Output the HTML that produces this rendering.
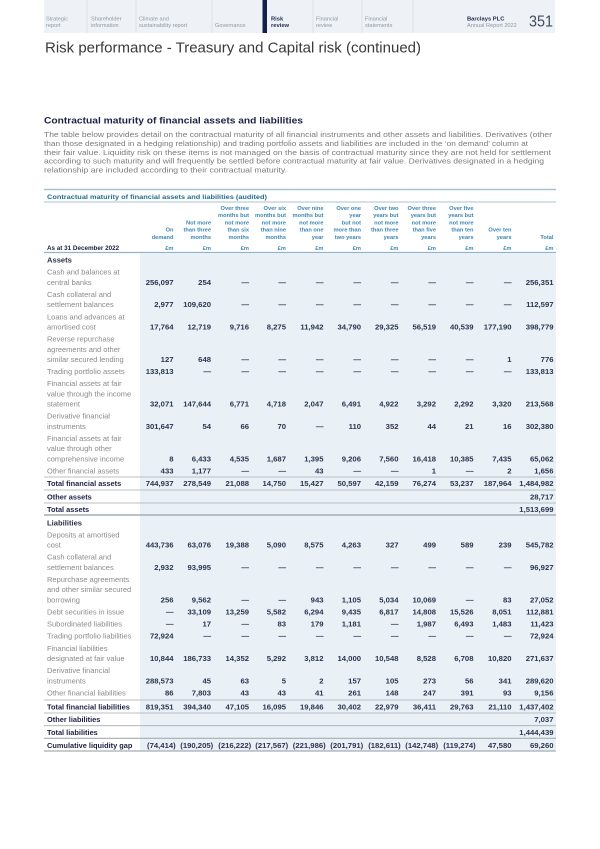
<!DOCTYPE html>
<html><head><meta charset="utf-8"><style>
html,body{margin:0;padding:0;background:#fff;}
svg{display:block;}
</style></head><body>
<svg width="600" height="849" viewBox="0 0 600 849" xmlns="http://www.w3.org/2000/svg" font-family="'Liberation Sans', sans-serif">
<rect x="0" y="0" width="600" height="849" fill="#fff"/>
<!-- NAV BAND -->
<rect x="44" y="0" width="511" height="33" fill="#eef2f6"/>
<g stroke="#d3dbe2" stroke-width="0.7">
<line x1="87" y1="0" x2="87" y2="33"/><line x1="136" y1="0" x2="136" y2="33"/><line x1="212" y1="0" x2="212" y2="33"/><line x1="313" y1="0" x2="313" y2="33"/><line x1="362" y1="0" x2="362" y2="33"/><line x1="413" y1="0" x2="413" y2="33"/>
</g>
<rect x="262.5" y="0" width="4.5" height="33" fill="#13204a"/>
<g font-size="5.6" fill="#8b97a3">
<text x="46" y="20.3">Strategic</text><text x="46" y="27">report</text>
<text x="91" y="20.3">Shareholder</text><text x="91" y="27">information</text>
<text x="139" y="20.3">Climate and</text><text x="139" y="27">sustainability report</text>
<text x="215" y="27">Governance</text>
<text x="316" y="20.3">Financial</text><text x="316" y="27">review</text>
<text x="365" y="20.3">Financial</text><text x="365" y="27">statements</text>
<text x="467" y="27">Annual Report 2022</text>
</g>
<g font-size="5.8" font-weight="bold" fill="#1d2b4f">
<text x="271" y="20.3">Risk</text><text x="271" y="27">review</text>
<text x="467" y="20.3">Barclays PLC</text>
</g>
<text x="529" y="26.7" font-size="15.5" fill="#3e4a5e" textLength="24" lengthAdjust="spacingAndGlyphs">351</text>

<!-- TITLE -->
<text x="45" y="52.3" font-size="15" fill="#3a3a3a" textLength="376" lengthAdjust="spacingAndGlyphs">Risk performance - Treasury and Capital risk (continued)</text>

<!-- HEADING & PARAGRAPH -->
<text x="44" y="123.3" font-size="9.3" font-weight="bold" fill="#1c2143" textLength="259" lengthAdjust="spacingAndGlyphs">Contractual maturity of financial assets and liabilities</text>
<g font-size="7.5" fill="#7b7b7b">
<text x="44" y="136.9" textLength="508" lengthAdjust="spacingAndGlyphs">The table below provides detail on the contractual maturity of all financial instruments and other assets and liabilities. Derivatives (other</text>
<text x="44" y="145.9" textLength="484" lengthAdjust="spacingAndGlyphs">than those designated in a hedging relationship) and trading portfolio assets and liabilities are included in the ‘on demand’ column at</text>
<text x="44" y="154.9" textLength="507" lengthAdjust="spacingAndGlyphs">their fair value. Liquidity risk on these items is not managed on the basis of contractual maturity since they are not held for settlement</text>
<text x="44" y="163.6" textLength="500" lengthAdjust="spacingAndGlyphs">according to such maturity and will frequently be settled before contractual maturity at fair value. Derivatives designated in a hedging</text>
<text x="44" y="172.6" textLength="243" lengthAdjust="spacingAndGlyphs">relationship are included according to their contractual maturity.</text>
</g>

<!-- TABLE TITLE BAR -->
<line x1="44" y1="189.5" x2="556" y2="189.5" stroke="#a8c3d2" stroke-width="1.6"/>
<text x="47" y="199" font-size="6.5" font-weight="bold" fill="#226f92" textLength="220" lengthAdjust="spacingAndGlyphs">Contractual maturity of financial assets and liabilities (audited)</text>
<line x1="44" y1="202" x2="556" y2="202" stroke="#a8c3d2" stroke-width="1"/>

<!-- COLUMN HEADERS -->
<g font-size="5.7" font-weight="bold" fill="#3b86b3" text-anchor="end">
<text x="173.5" y="231.6">On</text><text x="173.5" y="238.8">demand</text>
<text x="211" y="224.3">Not more</text><text x="211" y="231.6">than three</text><text x="211" y="238.8">months</text>
<text x="249" y="209.8">Over three</text><text x="249" y="217.1">months but</text><text x="249" y="224.3">not more</text><text x="249" y="231.6">than six</text><text x="249" y="238.8">months</text>
<text x="286" y="209.8">Over six</text><text x="286" y="217.1">months but</text><text x="286" y="224.3">not more</text><text x="286" y="231.6">than nine</text><text x="286" y="238.8">months</text>
<text x="323.5" y="209.8">Over nine</text><text x="323.5" y="217.1">months but</text><text x="323.5" y="224.3">not more</text><text x="323.5" y="231.6">than one</text><text x="323.5" y="238.8">year</text>
<text x="361" y="209.8">Over one</text><text x="361" y="217.1">year</text><text x="361" y="224.3">but not</text><text x="361" y="231.6">more than</text><text x="361" y="238.8">two years</text>
<text x="398.5" y="209.8">Over two</text><text x="398.5" y="217.1">years but</text><text x="398.5" y="224.3">not more</text><text x="398.5" y="231.6">than three</text><text x="398.5" y="238.8">years</text>
<text x="436" y="209.8">Over three</text><text x="436" y="217.1">years but</text><text x="436" y="224.3">not more</text><text x="436" y="231.6">than five</text><text x="436" y="238.8">years</text>
<text x="473.5" y="209.8">Over five</text><text x="473.5" y="217.1">years but</text><text x="473.5" y="224.3">not more</text><text x="473.5" y="231.6">than ten</text><text x="473.5" y="238.8">years</text>
<text x="511.5" y="231.6">Over ten</text><text x="511.5" y="238.8">years</text>
<text x="553.5" y="238.8">Total</text>
<text x="173.5" y="250">£m</text><text x="211" y="250">£m</text><text x="249" y="250">£m</text><text x="286" y="250">£m</text><text x="323.5" y="250">£m</text><text x="361" y="250">£m</text><text x="398.5" y="250">£m</text><text x="436" y="250">£m</text><text x="473.5" y="250">£m</text><text x="511.5" y="250">£m</text><text x="553.5" y="250">£m</text>
</g>
<text x="47" y="250" font-size="6.3" font-weight="bold" fill="#1c2143">As at 31 December 2022</text>
<line x1="44" y1="252.5" x2="556" y2="252.5" stroke="#93b4c8" stroke-width="1.2"/>

<!-- BLUE BODY BG -->
<rect x="140" y="253.1" width="416" height="498" fill="#e9f1f6"/>

<!-- RULES -->
<g stroke="#a3adb5" stroke-width="0.8">
<line x1="44" y1="477" x2="556" y2="477"/>
<line x1="44" y1="490" x2="556" y2="490"/>
<line x1="44" y1="503" x2="556" y2="503"/>
<line x1="44" y1="700" x2="556" y2="700"/>
<line x1="44" y1="713" x2="556" y2="713"/>
<line x1="44" y1="725.7" x2="556" y2="725.7"/>
</g>
<line x1="44" y1="515" x2="556" y2="515" stroke="#a3adb5" stroke-width="1.6"/>
<line x1="44" y1="738.3" x2="556" y2="738.3" stroke="#a3adb5" stroke-width="1.2"/>
<line x1="44" y1="751" x2="556" y2="751" stroke="#a3adb5" stroke-width="1.2"/>

<!-- SECTION / TOTAL LABELS -->
<g font-size="7.6" font-weight="bold" fill="#2a2f45">
<text x="47" y="262.6">Assets</text>
<text x="47" y="525.3">Liabilities</text>
</g>
<g font-size="7.4" font-weight="bold" fill="#1c2143">
<text x="47" y="486.1">Total financial assets</text>
<text x="47" y="499.3">Other assets</text>
<text x="47" y="511.9">Total assets</text>
<text x="47" y="709.3">Total financial liabilities</text>
<text x="47" y="721.9">Other liabilities</text>
<text x="47" y="734.9">Total liabilities</text>
<text x="47" y="747.9">Cumulative liquidity gap</text>
</g>

<!-- ROW LABELS -->
<g font-size="7.5" fill="#8a8a8a">
<text x="47" y="274.7">Cash and balances at</text><text x="47" y="284.9">central banks</text>
<text x="47" y="297">Cash collateral and</text><text x="47" y="307.2">settlement balances</text>
<text x="47" y="319.3">Loans and advances at</text><text x="47" y="329.5">amortised cost</text>
<text x="47" y="341.6">Reverse repurchase</text><text x="47" y="351.8">agreements and other</text><text x="47" y="362">similar secured lending</text>
<text x="47" y="373.8">Trading portfolio assets</text>
<text x="47" y="386.2">Financial assets at fair</text><text x="47" y="396.4">value through the income</text><text x="47" y="406.6">statement</text>
<text x="47" y="418.7">Derivative financial</text><text x="47" y="428.9">instruments</text>
<text x="47" y="441">Financial assets at fair</text><text x="47" y="451.2">value through other</text><text x="47" y="461.4">comprehensive income</text>
<text x="47" y="473.5">Other financial assets</text>
<text x="47" y="537.4">Deposits at amortised</text><text x="47" y="547.6">cost</text>
<text x="47" y="559.7">Cash collateral and</text><text x="47" y="569.9">settlement balances</text>
<text x="47" y="582">Repurchase agreements</text><text x="47" y="592.2">and other similar secured</text><text x="47" y="602.4">borrowing</text>
<text x="47" y="614.5">Debt securities in issue</text>
<text x="47" y="626.6">Subordinated liabilities</text>
<text x="47" y="638.7">Trading portfolio liabilities</text>
<text x="47" y="650.8">Financial liabilities</text><text x="47" y="661">designated at fair value</text>
<text x="47" y="673.1">Derivative financial</text><text x="47" y="683.3">instruments</text>
<text x="47" y="695.4">Other financial liabilities</text>
</g>

<!-- NUMBERS -->
<g font-size="7.7" font-weight="bold" fill="#2a3550" text-anchor="end">
<!-- Cash and balances -->
<text x="173.5" y="284.9">256,097</text><text x="211" y="284.9">254</text><text x="249" y="284.9">—</text><text x="286" y="284.9">—</text><text x="323.5" y="284.9">—</text><text x="361" y="284.9">—</text><text x="398.5" y="284.9">—</text><text x="436" y="284.9">—</text><text x="473.5" y="284.9">—</text><text x="511.5" y="284.9">—</text><text x="553.5" y="284.9">256,351</text>
<!-- Cash collateral -->
<text x="173.5" y="307.2">2,977</text><text x="211" y="307.2">109,620</text><text x="249" y="307.2">—</text><text x="286" y="307.2">—</text><text x="323.5" y="307.2">—</text><text x="361" y="307.2">—</text><text x="398.5" y="307.2">—</text><text x="436" y="307.2">—</text><text x="473.5" y="307.2">—</text><text x="511.5" y="307.2">—</text><text x="553.5" y="307.2">112,597</text>
<!-- Loans -->
<text x="173.5" y="329.5">17,764</text><text x="211" y="329.5">12,719</text><text x="249" y="329.5">9,716</text><text x="286" y="329.5">8,275</text><text x="323.5" y="329.5">11,942</text><text x="361" y="329.5">34,790</text><text x="398.5" y="329.5">29,325</text><text x="436" y="329.5">56,519</text><text x="473.5" y="329.5">40,539</text><text x="511.5" y="329.5">177,190</text><text x="553.5" y="329.5">398,779</text>
<!-- Reverse repo -->
<text x="173.5" y="362">127</text><text x="211" y="362">648</text><text x="249" y="362">—</text><text x="286" y="362">—</text><text x="323.5" y="362">—</text><text x="361" y="362">—</text><text x="398.5" y="362">—</text><text x="436" y="362">—</text><text x="473.5" y="362">—</text><text x="511.5" y="362">1</text><text x="553.5" y="362">776</text>
<!-- Trading portfolio assets -->
<text x="173.5" y="373.8">133,813</text><text x="211" y="373.8">—</text><text x="249" y="373.8">—</text><text x="286" y="373.8">—</text><text x="323.5" y="373.8">—</text><text x="361" y="373.8">—</text><text x="398.5" y="373.8">—</text><text x="436" y="373.8">—</text><text x="473.5" y="373.8">—</text><text x="511.5" y="373.8">—</text><text x="553.5" y="373.8">133,813</text>
<!-- FA FVTPL -->
<text x="173.5" y="406.6">32,071</text><text x="211" y="406.6">147,644</text><text x="249" y="406.6">6,771</text><text x="286" y="406.6">4,718</text><text x="323.5" y="406.6">2,047</text><text x="361" y="406.6">6,491</text><text x="398.5" y="406.6">4,922</text><text x="436" y="406.6">3,292</text><text x="473.5" y="406.6">2,292</text><text x="511.5" y="406.6">3,320</text><text x="553.5" y="406.6">213,568</text>
<!-- Derivatives -->
<text x="173.5" y="428.9">301,647</text><text x="211" y="428.9">54</text><text x="249" y="428.9">66</text><text x="286" y="428.9">70</text><text x="323.5" y="428.9">—</text><text x="361" y="428.9">110</text><text x="398.5" y="428.9">352</text><text x="436" y="428.9">44</text><text x="473.5" y="428.9">21</text><text x="511.5" y="428.9">16</text><text x="553.5" y="428.9">302,380</text>
<!-- FVOCI -->
<text x="173.5" y="461.4">8</text><text x="211" y="461.4">6,433</text><text x="249" y="461.4">4,535</text><text x="286" y="461.4">1,687</text><text x="323.5" y="461.4">1,395</text><text x="361" y="461.4">9,206</text><text x="398.5" y="461.4">7,560</text><text x="436" y="461.4">16,418</text><text x="473.5" y="461.4">10,385</text><text x="511.5" y="461.4">7,435</text><text x="553.5" y="461.4">65,062</text>
<!-- Other FA -->
<text x="173.5" y="473.5">433</text><text x="211" y="473.5">1,177</text><text x="249" y="473.5">—</text><text x="286" y="473.5">—</text><text x="323.5" y="473.5">43</text><text x="361" y="473.5">—</text><text x="398.5" y="473.5">—</text><text x="436" y="473.5">1</text><text x="473.5" y="473.5">—</text><text x="511.5" y="473.5">2</text><text x="553.5" y="473.5">1,656</text>
<!-- Total FA -->
<text x="173.5" y="486.1">744,937</text><text x="211" y="486.1">278,549</text><text x="249" y="486.1">21,088</text><text x="286" y="486.1">14,750</text><text x="323.5" y="486.1">15,427</text><text x="361" y="486.1">50,597</text><text x="398.5" y="486.1">42,159</text><text x="436" y="486.1">76,274</text><text x="473.5" y="486.1">53,237</text><text x="511.5" y="486.1">187,964</text><text x="553.5" y="486.1">1,484,982</text>
<text x="553.5" y="499.3">28,717</text>
<text x="553.5" y="511.9">1,513,699</text>
<!-- Deposits -->
<text x="173.5" y="547.6">443,736</text><text x="211" y="547.6">63,076</text><text x="249" y="547.6">19,388</text><text x="286" y="547.6">5,090</text><text x="323.5" y="547.6">8,575</text><text x="361" y="547.6">4,263</text><text x="398.5" y="547.6">327</text><text x="436" y="547.6">499</text><text x="473.5" y="547.6">589</text><text x="511.5" y="547.6">239</text><text x="553.5" y="547.6">545,782</text>
<!-- Cash collateral L -->
<text x="173.5" y="569.9">2,932</text><text x="211" y="569.9">93,995</text><text x="249" y="569.9">—</text><text x="286" y="569.9">—</text><text x="323.5" y="569.9">—</text><text x="361" y="569.9">—</text><text x="398.5" y="569.9">—</text><text x="436" y="569.9">—</text><text x="473.5" y="569.9">—</text><text x="511.5" y="569.9">—</text><text x="553.5" y="569.9">96,927</text>
<!-- Repurchase -->
<text x="173.5" y="602.4">256</text><text x="211" y="602.4">9,562</text><text x="249" y="602.4">—</text><text x="286" y="602.4">—</text><text x="323.5" y="602.4">943</text><text x="361" y="602.4">1,105</text><text x="398.5" y="602.4">5,034</text><text x="436" y="602.4">10,069</text><text x="473.5" y="602.4">—</text><text x="511.5" y="602.4">83</text><text x="553.5" y="602.4">27,052</text>
<!-- Debt securities -->
<text x="173.5" y="614.5">—</text><text x="211" y="614.5">33,109</text><text x="249" y="614.5">13,259</text><text x="286" y="614.5">5,582</text><text x="323.5" y="614.5">6,294</text><text x="361" y="614.5">9,435</text><text x="398.5" y="614.5">6,817</text><text x="436" y="614.5">14,808</text><text x="473.5" y="614.5">15,526</text><text x="511.5" y="614.5">8,051</text><text x="553.5" y="614.5">112,881</text>
<!-- Subordinated -->
<text x="173.5" y="626.6">—</text><text x="211" y="626.6">17</text><text x="249" y="626.6">—</text><text x="286" y="626.6">83</text><text x="323.5" y="626.6">179</text><text x="361" y="626.6">1,181</text><text x="398.5" y="626.6">—</text><text x="436" y="626.6">1,987</text><text x="473.5" y="626.6">6,493</text><text x="511.5" y="626.6">1,483</text><text x="553.5" y="626.6">11,423</text>
<!-- Trading L -->
<text x="173.5" y="638.7">72,924</text><text x="211" y="638.7">—</text><text x="249" y="638.7">—</text><text x="286" y="638.7">—</text><text x="323.5" y="638.7">—</text><text x="361" y="638.7">—</text><text x="398.5" y="638.7">—</text><text x="436" y="638.7">—</text><text x="473.5" y="638.7">—</text><text x="511.5" y="638.7">—</text><text x="553.5" y="638.7">72,924</text>
<!-- FL FV -->
<text x="173.5" y="661">10,844</text><text x="211" y="661">186,733</text><text x="249" y="661">14,352</text><text x="286" y="661">5,292</text><text x="323.5" y="661">3,812</text><text x="361" y="661">14,000</text><text x="398.5" y="661">10,548</text><text x="436" y="661">8,528</text><text x="473.5" y="661">6,708</text><text x="511.5" y="661">10,820</text><text x="553.5" y="661">271,637</text>
<!-- Derivatives L -->
<text x="173.5" y="683.3">288,573</text><text x="211" y="683.3">45</text><text x="249" y="683.3">63</text><text x="286" y="683.3">5</text><text x="323.5" y="683.3">2</text><text x="361" y="683.3">157</text><text x="398.5" y="683.3">105</text><text x="436" y="683.3">273</text><text x="473.5" y="683.3">56</text><text x="511.5" y="683.3">341</text><text x="553.5" y="683.3">289,620</text>
<!-- Other FL -->
<text x="173.5" y="695.4">86</text><text x="211" y="695.4">7,803</text><text x="249" y="695.4">43</text><text x="286" y="695.4">43</text><text x="323.5" y="695.4">41</text><text x="361" y="695.4">261</text><text x="398.5" y="695.4">148</text><text x="436" y="695.4">247</text><text x="473.5" y="695.4">391</text><text x="511.5" y="695.4">93</text><text x="553.5" y="695.4">9,156</text>
<!-- Total FL -->
<text x="173.5" y="709.3">819,351</text><text x="211" y="709.3">394,340</text><text x="249" y="709.3">47,105</text><text x="286" y="709.3">16,095</text><text x="323.5" y="709.3">19,846</text><text x="361" y="709.3">30,402</text><text x="398.5" y="709.3">22,979</text><text x="436" y="709.3">36,411</text><text x="473.5" y="709.3">29,763</text><text x="511.5" y="709.3">21,110</text><text x="553.5" y="709.3">1,437,402</text>
<text x="553.5" y="721.9">7,037</text>
<text x="553.5" y="734.9">1,444,439</text>
<!-- Cumulative -->
<text x="175.7" y="747.9">(74,414)</text><text x="213.2" y="747.9">(190,205)</text><text x="251.2" y="747.9">(216,222)</text><text x="288.2" y="747.9">(217,567)</text><text x="325.7" y="747.9">(221,986)</text><text x="363.2" y="747.9">(201,791)</text><text x="400.7" y="747.9">(182,611)</text><text x="438.2" y="747.9">(142,748)</text><text x="475.7" y="747.9">(119,274)</text><text x="511.5" y="747.9">47,580</text><text x="553.5" y="747.9">69,260</text>
</g>
</svg>
</body></html>
